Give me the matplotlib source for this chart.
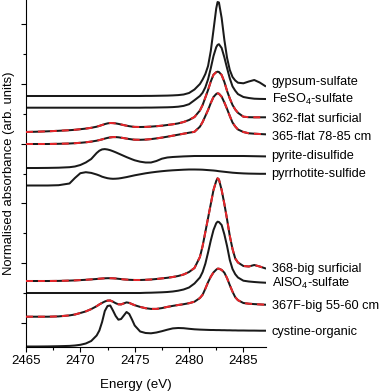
import matplotlib
matplotlib.use("Agg")
import matplotlib.pyplot as plt
from matplotlib.ticker import FixedLocator, NullFormatter

plt.rcParams['font.family'] = ['Liberation Sans', 'DejaVu Sans']
plt.rcParams['mathtext.default'] = 'regular'
plt.rcParams['lines.scale_dashes'] = False

# Energy grid (eV)
energy = [2465, 2466, 2467, 2468, 2469, 2469.5, 2470, 2470.5, 2471, 2471.5,
          2471.75, 2472, 2472.25, 2472.5, 2472.75, 2473, 2473.25, 2473.5, 2473.75, 2474,
          2474.25, 2474.5, 2474.75, 2475, 2475.5, 2476, 2476.5, 2477, 2477.5, 2478,
          2478.5, 2479, 2479.5, 2480, 2480.5, 2481, 2481.25, 2481.5, 2481.75, 2482,
          2482.25, 2482.5, 2482.625, 2482.75, 2483, 2483.25, 2483.5, 2483.75, 2484, 2484.25,
          2484.5, 2485, 2485.5, 2486, 2486.5, 2487]

# Normalised absorbance (arb. units), relative to each spectrum's own baseline
gypsum = [0, 0, 0, 0, 0, 0, 0, 0, 0, 0,
          0, 0, 0, 0, 0, 0, 0, 0, 0, 0,
          0, 0, 0, 0, 0, 0.1, 0.1, 0.2, 0.3, 0.4,
          0.6, 0.9, 1.5, 3, 6.5, 12, 16.5, 22, 30, 45,
          66, 87.5, 94, 93.5, 78, 56, 38, 26, 19, 15.5,
          13.3, 12.7, 14.5, 16, 13.5, 10]
feso4 = [0, 0, 0, 0, 0, 0, 0, 0, 0, 0,
         0, 0, 0, 0, 0, 0, 0, 0, 0, 0,
         0, 0, 0, 0, 0, 0.1, 0.1, 0.2, 0.3, 0.4,
         0.6, 1.0, 1.8, 3.5, 7.5, 11.7, 15, 20.4, 28.4, 39.5,
         51.7, 60.5, 62.8, 63.5, 59.7, 50.3, 39.5, 29.3, 21.3, 17,
         13.6, 10.7, 9.7, 9, 8.8, 8.7]
flat362 = [0, 0.3, 0.7, 1.2, 1.8, 2.2, 2.8, 3.4, 4.2, 5.3,
           6.1, 7, 7.9, 8.6, 9, 8.9, 8.6, 8.1, 7.5, 6.9,
           6.3, 5.8, 5.4, 5.1, 5, 5.1, 5.4, 5.8, 6.3, 7,
           7.7, 8.6, 10, 12, 15, 21.5, 27, 34.5, 42, 50.5,
           57.3, 59.8, 60.3, 60, 57, 50, 41, 33.5, 27, 22.5,
           19.2, 15.3, 14.8, 14.7, 14.7, 14.7]
flat365 = [0, 0, 0, 0.2, 0.5, 0.8, 1.2, 1.7, 2.4, 3.3,
           3.9, 4.6, 5.4, 6.1, 6.6, 6.9, 6.9, 6.7, 6.3, 5.9,
           5.4, 5, 4.6, 4.3, 4.2, 4.4, 4.9, 5.6, 6.4, 7.3,
           8.3, 9.3, 10.3, 11.3, 12.2, 17.3, 22, 28, 34, 41,
           47, 50, 50.7, 50.3, 47.3, 41.5, 35, 28, 21.5, 17.5,
           14.5, 12, 10.7, 10.3, 10, 9.7]
pyrite = [0, 0, 0.1, 0.3, 0.8, 1.5, 3, 5.5, 9, 15,
          17.3, 18.6, 18.9, 18.5, 17.8, 16.8, 15.7, 14.5, 13.3, 12.1,
          10.9, 9.8, 8.7, 7.7, 6.3, 5.5, 5.5, 7, 9.3, 10.5,
          11, 11.3, 11.6, 11.8, 12, 12, 12, 12, 12, 12,
          12, 12, 12, 12, 12, 12, 12, 12, 12, 12,
          12, 12, 11.9, 11.8, 11.7, 11.6]
pyrrhotite = [0, 0, 0, 0.3, 2, 7.5, 12.3, 13.3, 12.6, 11,
              10, 8.8, 8, 7.3, 6.9, 6.7, 6.8, 7, 7.4, 7.9,
              8.4, 9, 9.6, 10.2, 11.2, 12.2, 13, 13.7, 14.3, 14.8,
              15.2, 15.5, 15.8, 16, 16, 15.9, 15.8, 15.6, 15.4, 15.2,
              15, 14.7, 14.5, 14.3, 14, 13.7, 13.4, 13.1, 12.8, 12.6,
              12.4, 12.1, 11.9, 11.8, 11.7, 11.7]
big368 = [0, 0, 0, 0.1, 0.4, 0.6, 0.9, 1.2, 1.6, 2,
          2.3, 2.5, 2.7, 2.8, 2.8, 2.7, 2.5, 2.2, 1.9, 1.6,
          1.4, 1.2, 1.1, 1.0, 1.0, 1.2, 1.5, 2, 2.6, 3.2,
          4, 5, 6.5, 9, 13, 24, 35, 49, 63, 77,
          91, 100, 102.7, 101.5, 91, 77, 61.5, 45, 32, 22.5,
          18.5, 15, 14.5, 16, 14.5, 12.7]
also4 = [0, 0, 0, 0, 0, 0, 0, 0, 0, 0,
         0, 0, 0, 0, 0, 0, 0, 0, 0, 0,
         0, 0, 0, 0, 0, 0.2, 0.3, 0.5, 0.7, 1,
         1.5, 2.3, 3.5, 5.5, 9.5, 15.5, 21, 29.3, 40.5, 52.5,
         63, 69.8, 71.3, 71, 68, 58.6, 46.8, 33, 24, 18.8,
         15.5, 12.3, 11.5, 11, 10.6, 10.3]
big367f = [0, 0, 0, 0.3, 1.3, 2.2, 3.7, 5.3, 7.6, 10.5,
           12.3, 13.8, 15.2, 16.1, 16.2, 15, 13.5, 12.4, 12.3, 13.3,
           14.3, 13.8, 12.6, 11.5, 9.8, 8.5, 7.8, 7.8, 8.6, 9.8,
           10.8, 11.7, 12.5, 13.5, 15, 18.7, 22, 28, 34.5, 40,
           44.3, 47, 48, 48, 46.8, 44, 38.5, 31.5, 25, 19.5,
           16.5, 13.7, 13, 12.6, 12.3, 12]
cystine = [0.5, 0.5, 0.6, 0.8, 1.1, 1.5, 2.2, 3.5, 6, 11.5,
           16.5, 25, 36, 41, 41.5, 36.5, 31, 27.3, 28, 31.5,
           35, 33, 27.5, 21.5, 15.5, 14, 13.7, 14.5, 15.8, 17.3,
           18.6, 19, 18.8, 18.2, 17.7, 17.4, 17.3, 17.2, 17.1, 17,
           17, 16.9, 16.9, 16.9, 16.8, 16.8, 16.7, 16.7, 16.6, 16.6,
           16.5, 16.5, 16.4, 16.4, 16.3, 16.3]

series = [gypsum, feso4, flat362, flat365, pyrite, pyrrhotite,
          big368, also4, big367f, cystine]
labels = ['gypsum-sulfate', 'FeSO$_4$-sulfate', '362-flat surficial',
          '365-flat 78-85 cm', 'pyrite-disulfide', 'pyrrhotite-sulfide',
          '368-big surficial', 'AlSO$_4$-sulfate', '367F-big 55-60 cm',
          'cystine-organic']
# vertical stacking offsets (arb. units)
offsets = [251, 239.3, 215, 203, 179, 161.5, 66, 54, 30.3, 0]
# which spectra carry a (red dashed) fit overlay
has_fit = [False, False, True, True, False, False, True, False, True, False]
label_y = [262, 244.3, 225.3, 207, 188, 170.3, 75.3, 60.3, 38, 12]

fig = plt.figure(figsize=(3.81, 3.91), dpi=100)
ax = fig.add_axes([26 / 381, 44 / 391, 240 / 381, 347 / 391])

for vals, off, fit, lab, ly in zip(series, offsets, has_fit, labels, label_y):
    y = [v + off for v in vals]
    ax.plot(energy, y, color='#1a1a1a', lw=1.45, solid_joinstyle='round', zorder=2)
    if fit:
        ax.plot(energy, y, color='#e8262b', lw=1.45, dashes=(5, 3.6), zorder=3)
    ax.text(2487.6, ly, lab, fontsize=9.2, va='baseline', ha='left', clip_on=False)

ax.set_xlim(2465, 2487.08)
ax.set_ylim(0, 347)

for s in ['top', 'right']:
    ax.spines[s].set_visible(False)
for s in ['left', 'bottom']:
    ax.spines[s].set_linewidth(0.8)

ax.xaxis.set_major_locator(FixedLocator([2465, 2470, 2475, 2480, 2485]))
ax.xaxis.set_minor_locator(FixedLocator([2467.5, 2472.5, 2477.5, 2482.5]))
ax.yaxis.set_major_locator(FixedLocator([24, 83.8, 143.6, 203.4, 263.2, 323]))
ax.yaxis.set_minor_locator(FixedLocator([53.9, 113.7, 173.5, 233.3, 293.1]))
ax.yaxis.set_major_formatter(NullFormatter())
ax.tick_params(axis='both', which='major', length=3.5, width=0.8, direction='out',
               labelsize=9.5, pad=2.5)
ax.tick_params(axis='both', which='minor', length=2, width=0.8, direction='out')

ax.set_xlabel('Energy (eV)', fontsize=9.6, va='baseline')
ax.xaxis.set_label_coords(0.458, -(388 - 347) / 347)
ax.set_ylabel('Normalised absorbance (arb. units)', fontsize=9.4)
ax.yaxis.set_label_coords(-0.044, 0.5)

fig.savefig('out.png', dpi=100)
